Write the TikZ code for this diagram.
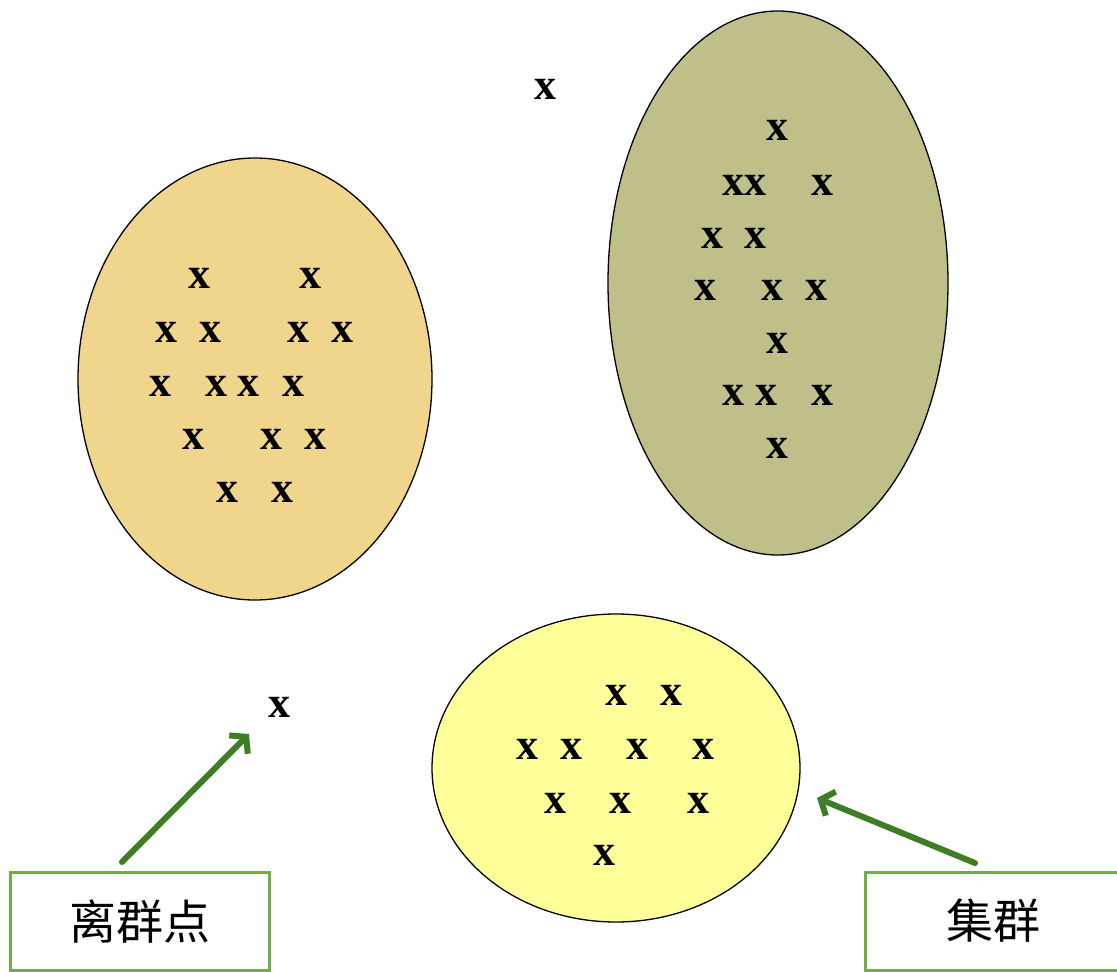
\documentclass[tikz,border=0pt]{standalone}
\usepackage{fontspec}
\setmainfont{Liberation Serif}
\newfontfamily\cjk{Noto Sans CJK SC}
\usetikzlibrary{arrows.meta}
\definecolor{sandfill}{RGB}{240,213,140}
\definecolor{olivefill}{RGB}{191,191,137}
\definecolor{lemonfill}{RGB}{255,255,153}
\definecolor{tagframe}{RGB}{112,173,71}
\definecolor{arrowgreen}{RGB}{61,125,35}
\begin{document}
\begin{tikzpicture}[x=1pt,y=-1pt,
  dot/.style={inner sep=0pt, font=\fontsize{44}{44}\selectfont\bfseries},
  blob/.style={draw=black, line width=1.3pt},
  tag/.style={draw=tagframe, line width=3pt, fill=white, inner sep=0pt,
    font=\cjk\fontsize{47}{47}\selectfont},
  pointer/.style={draw=arrowgreen, line width=6pt, line cap=round,
    -{Straight Barb[length=11pt,width=26pt]}}]
\useasboundingbox (0,0) rectangle (1117,972);

% three clusters
\draw[blob, fill=sandfill]  (255,379) ellipse [x radius=177pt, y radius=221pt];
\draw[blob, fill=olivefill] (778,283) ellipse [x radius=170pt, y radius=272pt];
\draw[blob, fill=lemonfill] (616,768) ellipse [x radius=184pt, y radius=154pt];

% points of the left cluster
\foreach \px/\py [count=\i] in {199/278, 310/278,
    166/332, 210/332, 298/332, 342/332,
    160/386, 216/386, 248/386, 293/386,
    193/439, 271/439, 315/439,
    227/492, 282/492}
  \node[dot] (a\i) at (\px,\py) {x};

% points of the upper right cluster
\foreach \px/\py [count=\i] in {777/130,
    733/185, 755/185, 822/185,
    712/238, 755/238,
    705/290, 772/290, 816/290,
    777/343,
    733/395, 766/395, 822/395,
    777/448}
  \node[dot] (b\i) at (\px,\py) {x};

% points of the lower cluster
\foreach \px/\py [count=\i] in {616/695, 671/695,
    527/749, 571/749, 637/749, 703/749,
    555/803, 620/803, 698/803,
    604/855}
  \node[dot] (c\i) at (\px,\py) {x};

% outliers
\node[dot] (out1) at (545,89) {x};
\node[dot] (out2) at (279,707) {x};

% labels
\node[tag, minimum width=259pt, minimum height=98pt] (outliertag) at (139.5,921) {离群点};
\node[tag, minimum width=256pt, minimum height=98pt] (clustertag) at (993,921) {集群};

% pointers
\coordinate (p1s) at (122,862);
\coordinate (p1e) at (249,734);
\coordinate (p2s) at (975,863);
\coordinate (p2e) at (817,798);
\draw[pointer] (p1s) -- (p1e);
\draw[pointer] (p2s) -- (p2e);
\end{tikzpicture}
\end{document}
